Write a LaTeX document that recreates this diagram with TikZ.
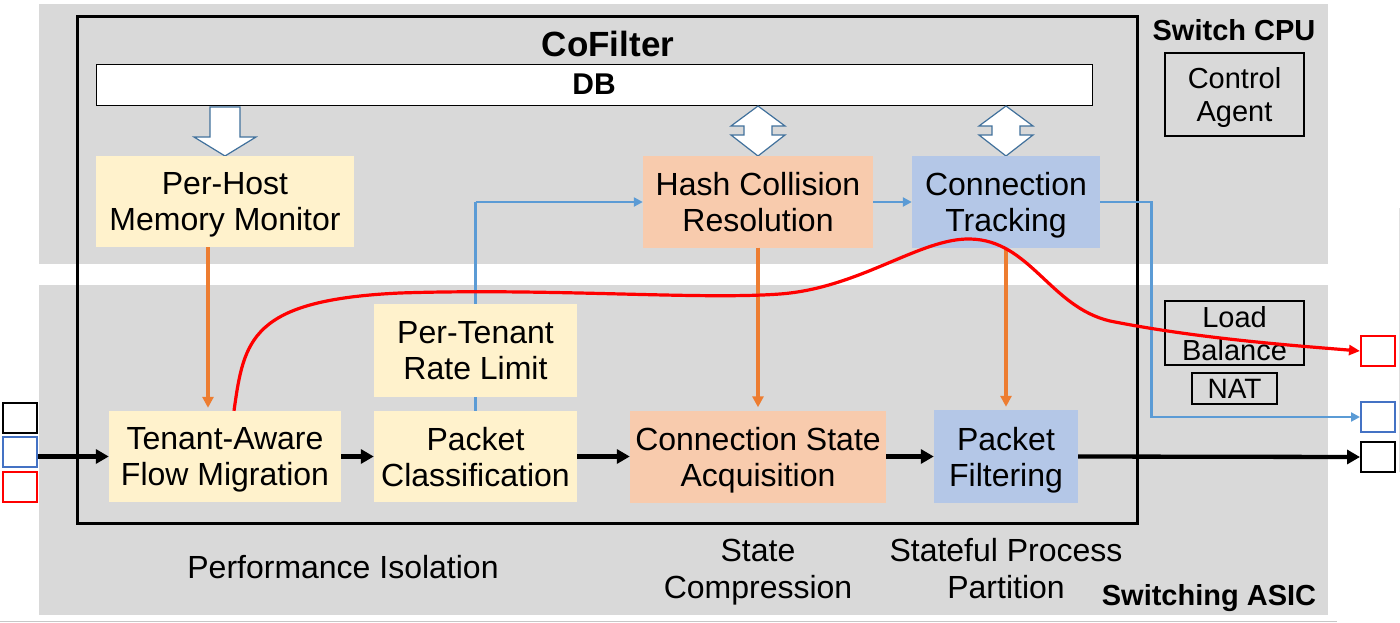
\documentclass[tikz,border=0pt]{standalone}
\usepackage{fontspec}
\setmainfont{Liberation Sans}
\usetikzlibrary{arrows.meta,calc}
\definecolor{panel}{HTML}{D9D9D9}
\definecolor{yel}{HTML}{FFF2CC}
\definecolor{sal}{HTML}{F8CBAD}
\definecolor{lblue}{HTML}{B4C7E7}
\definecolor{orng}{HTML}{ED7D31}
\definecolor{bln}{HTML}{5B9BD5}
\definecolor{hol}{HTML}{41719C}
\definecolor{sqblue}{HTML}{4472C4}
\begin{document}
\begin{tikzpicture}[x=1pt,y=-1pt,
  blk/.style={inner sep=0pt, align=center, text depth=0pt, font=\fontsize{32}{36}\selectfont},
  sml/.style={inner sep=0pt, align=center, text depth=0pt, font=\fontsize{29}{33}\selectfont},
  bold/.style={inner sep=0pt, text depth=0pt, font=\bfseries\fontsize{#1}{#1}\selectfont},
  sq/.style={draw=#1, line width=2pt, minimum width=34pt, minimum height=30pt, inner sep=0pt, fill=white},
  hollow/.style={draw=hol, fill=white, line width=1.2pt, line join=miter},
  karrow/.style={line width=4.3pt, -{Triangle[length=13pt,width=14pt]}},
  oarrow/.style={orng, line width=3.4pt, shorten >=3pt, -{Triangle[length=11pt,width=11pt]}},
  barrow/.style={bln, line width=2.8pt, -{Triangle[length=9pt,width=9pt]}},
  rarrow/.style={red, line width=3.2pt, -{Triangle[length=11pt,width=10pt]}},
  thinbox/.style={draw, line width=1.3pt}]
\useasboundingbox (0,0) rectangle (1400,623);
% panels
\fill[panel] (39,4) rectangle (1328,264);
\fill[panel] (39,285) rectangle (1328,615);
\draw[black!22, line width=1.5pt] (0,621.5) -- (1337,621.5);
\draw[black!12, line width=1pt] (1399,208) -- (1399,472);
% CoFilter frame
\draw[line width=3pt] (77,17) rectangle (1137,523);
\node[bold=35] (cof) at (608,44) {CoFilter};
\node[draw, thick, fill=white, minimum width=996pt, minimum height=41pt, inner sep=0pt, font=\bfseries\fontsize{30}{30}\selectfont] (DB) at (594,84.5) {DB};
% hollow arrows
\draw[hollow] (210,107) -- (240,107) -- (240,137) -- (256,137) -- (225,156) -- (194,137) -- (210,137) -- cycle;
\foreach \cx in {758,1006}{
  \draw[hollow] (\cx,106) -- (\cx+27,126) -- (\cx+14,126) -- (\cx+14,135) -- (\cx+27,135) -- (\cx,156)
     -- (\cx-27,135) -- (\cx-14,135) -- (\cx-14,126) -- (\cx-27,126) -- cycle;
}
% nodes
\node[blk, fill=yel, minimum width=258pt, minimum height=91pt] (PH) at (225,201.5) {Per-Host\\Memory Monitor};
\node[blk, fill=sal, minimum width=230pt, minimum height=91pt] (HC) at (758,202) {Hash Collision\\Resolution};
\node[blk, fill=lblue, minimum width=188pt, minimum height=91pt] (CT) at (1006,202) {Connection\\Tracking};
\node[blk, fill=yel, minimum width=232pt, minimum height=91pt] (TA) at (225,456.5) {Tenant-Aware\\Flow Migration};
\node[blk, fill=yel, minimum width=203pt, minimum height=91pt] (PC) at (475.5,456.5) {Packet\\Classification};
\node[blk, fill=sal, minimum width=256pt, minimum height=92pt] (CS) at (758,456.5) {Connection State\\Acquisition};
\node[blk, fill=lblue, minimum width=144pt, minimum height=93pt] (PF) at (1006,456.5) {Packet\\Filtering};
% right side
\node[bold=29] (scpu) at (1234,30) {Switch CPU};
\node[bold=29] (sasic) at (1209,595) {Switching ASIC};
\node[sml, thinbox, minimum width=139pt, minimum height=83pt] (CA) at (1234.5,94.5) {Control\\Agent};
\node[sml, thinbox, minimum width=139pt, minimum height=64pt] (LB) at (1234.5,333) {Load\\Balance};
\node[sml, thinbox, minimum width=85pt, minimum height=31pt, font=\fontsize{28}{30}\selectfont] (NAT) at (1234.5,388.5) {NAT};
% squares
\node[sq=black] (inK) at (20,417.5) {};
\node[sq=sqblue] (inB) at (20,452) {};
\node[sq=red] (inR) at (20,486.5) {};
\node[sq=red] (outR) at (1378,351) {};
\node[sq=sqblue] (outB) at (1378,417) {};
\node[sq=black] (outK) at (1378,457) {};
% blue connectors
\draw[bln, line width=2.8pt] (PC.north) -- (PC.north |- HC.west);
\draw[barrow] (PC.north |- HC.west) -- (HC.west);
\draw[barrow] (HC.east) -- (CT.west);
\draw[barrow] (CT.east) -- ++(51,0) |- (outB.west);
% rate limit on top of blue line
\node[blk, fill=yel, minimum width=203pt, minimum height=93pt] (RL) at (475.5,350.5) {Per-Tenant\\Rate Limit};
% orange
\draw[oarrow] ($(PH.south)+(-17,0)$) -- ($(TA.north)+(-17,0)$);
\draw[oarrow] (HC.south) -- (CS.north);
\draw[oarrow] (CT.south) -- (PF.north);
% black
\draw[karrow] (inB.east |- TA.west) -- (TA.west);
\draw[karrow] (TA.east) -- (PC.west);
\draw[karrow] (PC.east) -- (CS.west);
\draw[karrow] (CS.east) -- (PF.west);
\draw[karrow] (PF.east) -- (outK.west);
% red curve
\draw[rarrow] ($(TA.north)+(9,0)$) .. controls (244,340) and (250,300) .. (400,293)
   .. controls (550,288) and (700,300) .. (780,294)
   .. controls (860,288) and (920,238) .. (970,239)
   .. controls (1030,240) and (1050,307) .. (1110,321)
   .. controls (1200,339) and (1300,346) .. (outR.west);
% bottom labels
\node[blk] (piso) at (343,567) {Performance Isolation};
\node[blk, font=\fontsize{32}{37}\selectfont] (scomp) at (758,568.5) {State\\Compression};
\node[blk, font=\fontsize{32}{37}\selectfont] (spp) at (1006,568.5) {Stateful Process\\Partition};
\end{tikzpicture}
\end{document}
